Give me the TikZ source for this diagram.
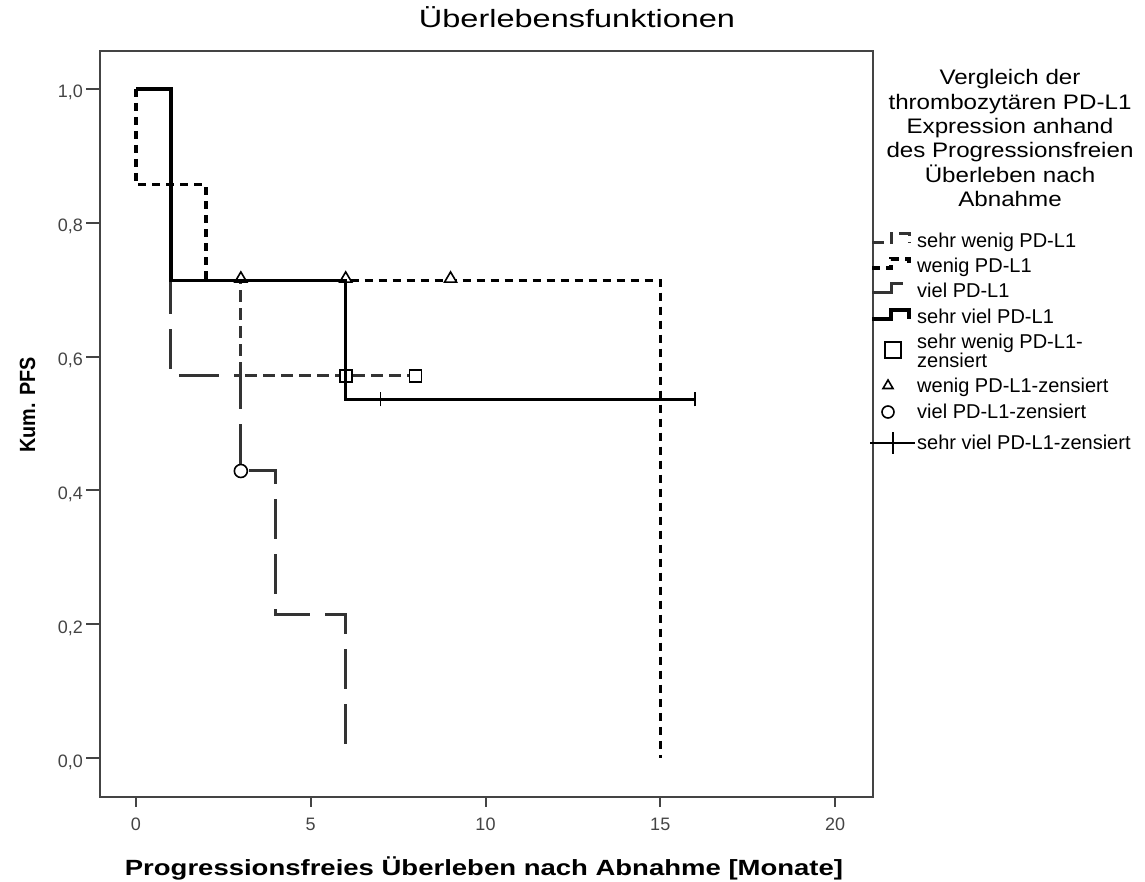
\documentclass[tikz,border=0pt]{standalone}
\usepackage{fontspec}
\setmainfont{Liberation Sans}
\newfontfamily\titlefont[FakeStretch=1.3]{Liberation Sans}
\newfontfamily\axisfont[FakeStretch=1.25]{Liberation Sans}
\newfontfamily\yaxisfont[FakeStretch=0.9]{Liberation Sans}
\newfontfamily\headfont[FakeStretch=1.15]{Liberation Sans}
\definecolor{rahmen}{HTML}{444444}
\definecolor{kurve}{HTML}{333333}
\tikzset{sehrwenig/.style = {kurve, line width=3pt, dash pattern=on 12pt off 6pt},
         wenig/.style = {black, line width=3.4pt, dash pattern=on 8pt off 6pt},
         viel/.style = {kurve, line width=3pt, dash pattern=on 40pt off 15pt},
         sehrviel/.style = {black, line width=3.4pt},
         rahmenline/.style = {rahmen, line width=2pt},
         ticktext/.style = {text=rahmen, font=\fontsize{18}{20}\selectfont, inner sep=0pt},
         legtext/.style = {font=\fontsize{20}{18}\selectfont, inner sep=0pt},
         headtext/.style = {font=\headfont\fontsize{21}{24}\selectfont, inner sep=0pt},
         box/.pic = {\draw[black, line width=1.6pt, fill=white] (-#1,-#1) rectangle (#1,#1);},
         tri/.pic = {\draw[black, line width=1.6pt, fill=white] (-#1,-0.3*#1) -- (#1,-0.3*#1) -- (0,1.4*#1) -- cycle;},
         ring/.pic = {\draw[black, line width=1.6pt, fill=white] (0,0) circle (#1);},
         cross/.pic = {\draw[black, line width=1.6pt] (0,-#1) -- (0,#1);}}

\begin{document}
\begin{tikzpicture}[x=1pt, y=1pt]
        \useasboundingbox (0,0) rectangle (1145,881);
        \node[font=\titlefont\fontsize{25}{28}\selectfont, inner sep=0pt, anchor=base] (title) at (577,853) {Überlebensfunktionen};

        % Rahmen und Achsen
        \draw[rahmenline] (100,84) rectangle (873,830);
        \foreach \t in {0,5,...,20} {
            \draw[rahmenline] ({136+34.95*\t},84) -- ({136+34.95*\t},74);
            \node[ticktext, anchor=base] (xt\t) at ({136+34.95*\t},51) {\t};
        }
        \foreach \v/\lab [count=\i] in {0/{0,0},0.2/{0,2},0.4/{0,4},0.6/{0,6},0.8/{0,8},1/{1,0}} {
            \draw[rahmenline] (100,{123+669*\v}) -- (86,{123+669*\v});
            \node[ticktext, anchor=base east] (yt\i) at (83,{114+669*\v}) {\lab};
        }
        \node[font=\axisfont\bfseries\fontsize{22}{24}\selectfont, inner sep=0pt, anchor=base] (xlabel) at (484,6) {Progressionsfreies Überleben nach Abnahme [Monate]};
        \node[font=\yaxisfont\bfseries\fontsize{22}{24}\selectfont, inner sep=0pt, rotate=90, anchor=base] (ylabel) at (35,476) {Kum. PFS};

        % Kurven
        \begin{scope}[shift={(136,123)}, x=34.95pt, y=669pt]
            \draw[sehrwenig] (0,1) -- (1,1) -- (1,0.714) -- (3,0.714) -- (3,0.571) -- (8,0.571);
            \draw[viel] (0,1) -- (1,1) -- (1,0.571) -- (3,0.571) -- (3,0.429) -- (4,0.429) -- (4,0.214) -- (6,0.214) -- (6,0);
            \draw[wenig] (0,1) -- (0,0.857) -- (2,0.857) -- (2,0.714) -- (15,0.714) -- (15,0);

            \draw(6,0.571)pic{box=6pt};
            \draw(8,0.571)pic{box=6pt};
            \draw(3,0.714)pic{tri=6pt};
            \draw(6,0.714)pic{tri=6pt};
            \draw(9,0.714)pic{tri=6pt};
            \draw(3,0.429)pic{ring=6.5pt};

            \draw[sehrviel] (0,1) -- (1,1) -- (1,0.714) -- (6,0.714) -- (6,0.536) -- (16,0.536);
            \draw(7,0.536)pic{cross=7pt};
            \draw(16,0.536)pic{cross=7pt};
        \end{scope}

        % Legende
        \foreach \zeile [count=\i] in {Vergleich der, thrombozytären PD-L1, Expression anhand, des Progressionsfreien, Überleben nach, Abnahme}
            \node[headtext, anchor=base] (kopf\i) at (1010,{796-24.3*(\i-1)}) {\zeile};
        \foreach \sty/\yc/\lab [count=\i] in {sehrwenig/641/sehr wenig PD-L1, wenig/616/wenig PD-L1, viel/591/viel PD-L1, sehrviel/565/sehr viel PD-L1} {
            \draw[\sty] (872,\yc-3) -- (891,\yc-3) -- (891,\yc+6) -- (909,\yc+6) -- (909,\yc-3);
            \node[legtext, anchor=base west] (leg\i) at (917,\yc-7.2) {\lab};
        }
        \draw(893,531)pic{box=8pt};
        \node[legtext, align=left, anchor=west] (leg5) at (917,530) {sehr wenig PD-L1-\\zensiert};
        \draw(888,494)pic{tri=5pt};
        \node[legtext, anchor=base west] (leg6) at (917,488) {wenig PD-L1-zensiert};
        \draw(888,469)pic{ring=6pt};
        \node[legtext, anchor=base west] (leg7) at (917,462) {viel PD-L1-zensiert};
        \draw[black, line width=1.6pt] (870,438) -- (915,438) (893,427) -- (893,449);
        \node[legtext, anchor=base west] (leg8) at (917,431) {sehr viel PD-L1-zensiert};
    \end{tikzpicture}
\end{document}
